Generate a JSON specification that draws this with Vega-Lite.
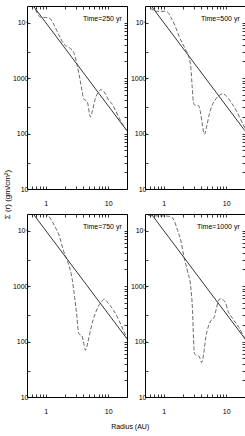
{
"$schema":"https://vega.github.io/schema/vega-lite/v6.json",
"padding":{"left":2,"top":5,"right":0,"bottom":2},
"config":{"view":{"stroke":"#000","strokeWidth":1},"font":"Liberation Sans Narrow, Liberation Sans, sans-serif","axis":{"labelFontSize":7,"labelColor":"#000","tickColor":"#000","tickWidth":0.8,"grid":false,"domain":false,"title":null}},
"title":{"text":"Radius (AU)","orient":"bottom","anchor":"middle","fontSize":7,"fontWeight":"normal","offset":8,"dx":6,"color":"#000"},
"datasets":{"d":[
{"t":"250","k":"m","r":0.62,"s":20500},{"t":"250","k":"m","r":20,"s":112},
{"t":"500","k":"m","r":0.62,"s":20500},{"t":"500","k":"m","r":20,"s":112},
{"t":"750","k":"m","r":0.62,"s":20500},{"t":"750","k":"m","r":20,"s":112},
{"t":"1000","k":"m","r":0.62,"s":20500},{"t":"1000","k":"m","r":20,"s":112},
{"t":"250","k":"s","r":0.6,"s":21000},{"t":"250","k":"s","r":0.67,"s":18000},{"t":"250","k":"s","r":0.75,"s":14000},{"t":"250","k":"s","r":0.82,"s":12600},{"t":"250","k":"s","r":1.0,"s":12400},{"t":"250","k":"s","r":1.15,"s":12000},{"t":"250","k":"s","r":1.3,"s":10000},{"t":"250","k":"s","r":1.45,"s":7800},{"t":"250","k":"s","r":1.7,"s":5400},{"t":"250","k":"s","r":1.95,"s":4100},{"t":"250","k":"s","r":2.2,"s":3700},{"t":"250","k":"s","r":2.5,"s":3400},{"t":"250","k":"s","r":2.8,"s":2900},{"t":"250","k":"s","r":3.15,"s":1800},{"t":"250","k":"s","r":3.5,"s":1000},{"t":"250","k":"s","r":3.8,"s":600},{"t":"250","k":"s","r":4.05,"s":420},{"t":"250","k":"s","r":4.6,"s":380},{"t":"250","k":"s","r":5.2,"s":200},{"t":"250","k":"s","r":5.6,"s":260},{"t":"250","k":"s","r":6.2,"s":420},{"t":"250","k":"s","r":6.8,"s":540},{"t":"250","k":"s","r":7.8,"s":620},{"t":"250","k":"s","r":9,"s":520},{"t":"250","k":"s","r":10.2,"s":400},{"t":"250","k":"s","r":11.6,"s":340},{"t":"250","k":"s","r":13.1,"s":260},{"t":"250","k":"s","r":15.8,"s":170},{"t":"250","k":"s","r":20,"s":112},
{"t":"500","k":"s","r":0.6,"s":18500},{"t":"500","k":"s","r":0.7,"s":16500},{"t":"500","k":"s","r":0.8,"s":16000},{"t":"500","k":"s","r":1.0,"s":16000},{"t":"500","k":"s","r":1.15,"s":15500},{"t":"500","k":"s","r":1.3,"s":12500},{"t":"500","k":"s","r":1.5,"s":9000},{"t":"500","k":"s","r":1.77,"s":5600},{"t":"500","k":"s","r":2.0,"s":4200},{"t":"500","k":"s","r":2.26,"s":3200},{"t":"500","k":"s","r":2.56,"s":2300},{"t":"500","k":"s","r":2.72,"s":1500},{"t":"500","k":"s","r":2.85,"s":700},{"t":"500","k":"s","r":2.97,"s":380},{"t":"500","k":"s","r":3.1,"s":330},{"t":"500","k":"s","r":3.6,"s":320},{"t":"500","k":"s","r":3.85,"s":250},{"t":"500","k":"s","r":4.1,"s":160},{"t":"500","k":"s","r":4.5,"s":97},{"t":"500","k":"s","r":4.9,"s":140},{"t":"500","k":"s","r":5.4,"s":230},{"t":"500","k":"s","r":6.0,"s":330},{"t":"500","k":"s","r":6.8,"s":420},{"t":"500","k":"s","r":7.8,"s":490},{"t":"500","k":"s","r":8.8,"s":520},{"t":"500","k":"s","r":9.8,"s":490},{"t":"500","k":"s","r":11,"s":420},{"t":"500","k":"s","r":12.5,"s":340},{"t":"500","k":"s","r":14.5,"s":260},{"t":"500","k":"s","r":17,"s":180},{"t":"500","k":"s","r":20,"s":125},
{"t":"750","k":"s","r":0.6,"s":20000},{"t":"750","k":"s","r":0.7,"s":20500},{"t":"750","k":"s","r":0.85,"s":20000},{"t":"750","k":"s","r":1.0,"s":19500},{"t":"750","k":"s","r":1.1,"s":18500},{"t":"750","k":"s","r":1.25,"s":15000},{"t":"750","k":"s","r":1.45,"s":11000},{"t":"750","k":"s","r":1.6,"s":8800},{"t":"750","k":"s","r":1.93,"s":4300},{"t":"750","k":"s","r":2.32,"s":2450},{"t":"750","k":"s","r":2.63,"s":1400},{"t":"750","k":"s","r":2.9,"s":620},{"t":"750","k":"s","r":3.15,"s":280},{"t":"750","k":"s","r":3.3,"s":160},{"t":"750","k":"s","r":3.45,"s":135},{"t":"750","k":"s","r":3.75,"s":130},{"t":"750","k":"s","r":4.0,"s":100},{"t":"750","k":"s","r":4.35,"s":70},{"t":"750","k":"s","r":4.7,"s":95},{"t":"750","k":"s","r":5.2,"s":160},{"t":"750","k":"s","r":5.7,"s":240},{"t":"750","k":"s","r":6.2,"s":320},{"t":"750","k":"s","r":7.0,"s":440},{"t":"750","k":"s","r":8.0,"s":540},{"t":"750","k":"s","r":8.6,"s":580},{"t":"750","k":"s","r":9.5,"s":530},{"t":"750","k":"s","r":10.5,"s":460},{"t":"750","k":"s","r":12.3,"s":360},{"t":"750","k":"s","r":14.9,"s":240},{"t":"750","k":"s","r":17.5,"s":160},{"t":"750","k":"s","r":20,"s":112},
{"t":"1000","k":"s","r":0.56,"s":19000},{"t":"1000","k":"s","r":0.7,"s":18500},{"t":"1000","k":"s","r":1.0,"s":18500},{"t":"1000","k":"s","r":1.3,"s":18000},{"t":"1000","k":"s","r":1.45,"s":15500},{"t":"1000","k":"s","r":1.67,"s":10000},{"t":"1000","k":"s","r":1.88,"s":6500},{"t":"1000","k":"s","r":2.13,"s":3200},{"t":"1000","k":"s","r":2.4,"s":1860},{"t":"1000","k":"s","r":2.71,"s":930},{"t":"1000","k":"s","r":2.89,"s":355},{"t":"1000","k":"s","r":3.0,"s":110},{"t":"1000","k":"s","r":3.1,"s":60},{"t":"1000","k":"s","r":3.3,"s":57},{"t":"1000","k":"s","r":3.65,"s":55},{"t":"1000","k":"s","r":4.05,"s":42},{"t":"1000","k":"s","r":4.35,"s":60},{"t":"1000","k":"s","r":4.7,"s":118},{"t":"1000","k":"s","r":5.2,"s":190},{"t":"1000","k":"s","r":5.63,"s":235},{"t":"1000","k":"s","r":6.37,"s":270},{"t":"1000","k":"s","r":6.9,"s":380},{"t":"1000","k":"s","r":7.66,"s":575},{"t":"1000","k":"s","r":8.1,"s":590},{"t":"1000","k":"s","r":9.0,"s":560},{"t":"1000","k":"s","r":9.75,"s":500},{"t":"1000","k":"s","r":10.7,"s":355},{"t":"1000","k":"s","r":12.4,"s":270},{"t":"1000","k":"s","r":15.9,"s":180},{"t":"1000","k":"s","r":20,"s":110}
]},
"columns":2,
"spacing":{"row":25,"column":18},
"bounds":"flush",
"concat":[
{"width":100,"height":183,"data":{"name":"d"},"transform":[{"filter":"datum.t=='250'"}],
 "resolve":{"axis":{"x":"independent","y":"independent"}},
 "layer":[
  {"transform":[{"filter":"datum.k=='m'"}],"mark":{"type":"line","color":"#000","strokeWidth":0.8,"clip":true},
   "encoding":{"x":{"field":"r","type":"quantitative","scale":{"type":"log","domain":[0.5,20],"nice":false},"axis":{"orient":"bottom","values":[0.6,0.7,0.8,0.9,1,2,3,4,5,6,7,8,9,10,20],"labelExpr":"datum.value==1||datum.value==10?datum.label:''","tickSize":-3,"labelPadding":13}},
    "y":{"field":"s","type":"quantitative","scale":{"type":"log","domain":[10,20000],"nice":false},"axis":{"orient":"left","values":[10,30,100,300,1000,3000,10000],"labelExpr":"datum.value==10000?'10⁴':(datum.value==10||datum.value==100||datum.value==1000?''+datum.value:'')","tickSize":-3,"labelPadding":2,"title":"Σ (r)  (gm/cm²)","titleFontSize":8,"titleFontWeight":"normal","titleX":-16,"titleY":188,"titleAngle":270,"titleColor":"#000"}}}},
  {"transform":[{"filter":"datum.k=='s'"}],"mark":{"type":"line","color":"#444","strokeWidth":0.8,"strokeDash":[4,2],"interpolate":"monotone","clip":true},
   "encoding":{"x":{"field":"r","type":"quantitative","axis":{"orient":"top","values":[0.6,0.7,0.8,0.9,1,2,3,4,5,6,7,8,9,10,20],"labels":false,"tickSize":-3}},
    "y":{"field":"s","type":"quantitative","axis":{"orient":"right","values":[20,30,40,50,60,70,80,90,100,200,300,400,500,600,700,800,900,1000,2000,3000,4000,5000,6000,7000,8000,9000,10000],"labels":false,"tickSize":-3}}}},
  {"data":{"values":[{"label":"Time=250 yr"}]},"mark":{"type":"text","align":"right","baseline":"middle","fontSize":7,"color":"#000"},
   "encoding":{"x":{"datum":16.5,"type":"quantitative","axis":null},"y":{"datum":11700,"type":"quantitative","axis":null},"text":{"field":"label"}}}
 ]},
{"width":100,"height":183,"data":{"name":"d"},"transform":[{"filter":"datum.t=='500'"}],
 "resolve":{"axis":{"x":"independent","y":"independent"}},
 "layer":[
  {"transform":[{"filter":"datum.k=='m'"}],"mark":{"type":"line","color":"#000","strokeWidth":0.8,"clip":true},
   "encoding":{"x":{"field":"r","type":"quantitative","scale":{"type":"log","domain":[0.5,20],"nice":false},"axis":{"orient":"bottom","values":[0.6,0.7,0.8,0.9,1,2,3,4,5,6,7,8,9,10,20],"labelExpr":"datum.value==1||datum.value==10?datum.label:''","tickSize":-3,"labelPadding":13}},
    "y":{"field":"s","type":"quantitative","scale":{"type":"log","domain":[10,20000],"nice":false},"axis":{"orient":"left","values":[10,30,100,300,1000,3000,10000],"labelExpr":"datum.value==10000?'10⁴':(datum.value==10||datum.value==100||datum.value==1000?''+datum.value:'')","tickSize":-3,"labelPadding":2}}}},
  {"transform":[{"filter":"datum.k=='s'"}],"mark":{"type":"line","color":"#444","strokeWidth":0.8,"strokeDash":[4,2],"interpolate":"monotone","clip":true},
   "encoding":{"x":{"field":"r","type":"quantitative","axis":{"orient":"top","values":[0.6,0.7,0.8,0.9,1,2,3,4,5,6,7,8,9,10,20],"labels":false,"tickSize":-3}},
    "y":{"field":"s","type":"quantitative","axis":{"orient":"right","values":[20,30,40,50,60,70,80,90,100,200,300,400,500,600,700,800,900,1000,2000,3000,4000,5000,6000,7000,8000,9000,10000],"labels":false,"tickSize":-3}}}},
  {"data":{"values":[{"label":"Time=500 yr"}]},"mark":{"type":"text","align":"right","baseline":"middle","fontSize":7,"color":"#000"},
   "encoding":{"x":{"datum":16.5,"type":"quantitative","axis":null},"y":{"datum":11700,"type":"quantitative","axis":null},"text":{"field":"label"}}}
 ]},
{"width":100,"height":183,"data":{"name":"d"},"transform":[{"filter":"datum.t=='750'"}],
 "resolve":{"axis":{"x":"independent","y":"independent"}},
 "layer":[
  {"transform":[{"filter":"datum.k=='m'"}],"mark":{"type":"line","color":"#000","strokeWidth":0.8,"clip":true},
   "encoding":{"x":{"field":"r","type":"quantitative","scale":{"type":"log","domain":[0.5,20],"nice":false},"axis":{"orient":"bottom","values":[0.6,0.7,0.8,0.9,1,2,3,4,5,6,7,8,9,10,20],"labelExpr":"datum.value==1||datum.value==10?datum.label:''","tickSize":-3,"labelPadding":13}},
    "y":{"field":"s","type":"quantitative","scale":{"type":"log","domain":[10,20000],"nice":false},"axis":{"orient":"left","values":[10,30,100,300,1000,3000,10000],"labelExpr":"datum.value==10000?'10⁴':(datum.value==10||datum.value==100||datum.value==1000?''+datum.value:'')","tickSize":-3,"labelPadding":2}}}},
  {"transform":[{"filter":"datum.k=='s'"}],"mark":{"type":"line","color":"#444","strokeWidth":0.8,"strokeDash":[4,2],"interpolate":"monotone","clip":true},
   "encoding":{"x":{"field":"r","type":"quantitative","axis":{"orient":"top","values":[0.6,0.7,0.8,0.9,1,2,3,4,5,6,7,8,9,10,20],"labels":false,"tickSize":-3}},
    "y":{"field":"s","type":"quantitative","axis":{"orient":"right","values":[20,30,40,50,60,70,80,90,100,200,300,400,500,600,700,800,900,1000,2000,3000,4000,5000,6000,7000,8000,9000,10000],"labels":false,"tickSize":-3}}}},
  {"data":{"values":[{"label":"Time=750 yr"}]},"mark":{"type":"text","align":"right","baseline":"middle","fontSize":7,"color":"#000"},
   "encoding":{"x":{"datum":16.5,"type":"quantitative","axis":null},"y":{"datum":11700,"type":"quantitative","axis":null},"text":{"field":"label"}}}
 ]},
{"width":100,"height":183,"data":{"name":"d"},"transform":[{"filter":"datum.t=='1000'"}],
 "resolve":{"axis":{"x":"independent","y":"independent"}},
 "layer":[
  {"transform":[{"filter":"datum.k=='m'"}],"mark":{"type":"line","color":"#000","strokeWidth":0.8,"clip":true},
   "encoding":{"x":{"field":"r","type":"quantitative","scale":{"type":"log","domain":[0.5,20],"nice":false},"axis":{"orient":"bottom","values":[0.6,0.7,0.8,0.9,1,2,3,4,5,6,7,8,9,10,20],"labelExpr":"datum.value==1||datum.value==10?datum.label:''","tickSize":-3,"labelPadding":13}},
    "y":{"field":"s","type":"quantitative","scale":{"type":"log","domain":[10,20000],"nice":false},"axis":{"orient":"left","values":[10,30,100,300,1000,3000,10000],"labelExpr":"datum.value==10000?'10⁴':(datum.value==10||datum.value==100||datum.value==1000?''+datum.value:'')","tickSize":-3,"labelPadding":2}}}},
  {"transform":[{"filter":"datum.k=='s'"}],"mark":{"type":"line","color":"#444","strokeWidth":0.8,"strokeDash":[4,2],"interpolate":"monotone","clip":true},
   "encoding":{"x":{"field":"r","type":"quantitative","axis":{"orient":"top","values":[0.6,0.7,0.8,0.9,1,2,3,4,5,6,7,8,9,10,20],"labels":false,"tickSize":-3}},
    "y":{"field":"s","type":"quantitative","axis":{"orient":"right","values":[20,30,40,50,60,70,80,90,100,200,300,400,500,600,700,800,900,1000,2000,3000,4000,5000,6000,7000,8000,9000,10000],"labels":false,"tickSize":-3}}}},
  {"data":{"values":[{"label":"Time=1000 yr"}]},"mark":{"type":"text","align":"right","baseline":"middle","fontSize":7,"color":"#000"},
   "encoding":{"x":{"datum":16.5,"type":"quantitative","axis":null},"y":{"datum":11700,"type":"quantitative","axis":null},"text":{"field":"label"}}}
 ]}
]
}
